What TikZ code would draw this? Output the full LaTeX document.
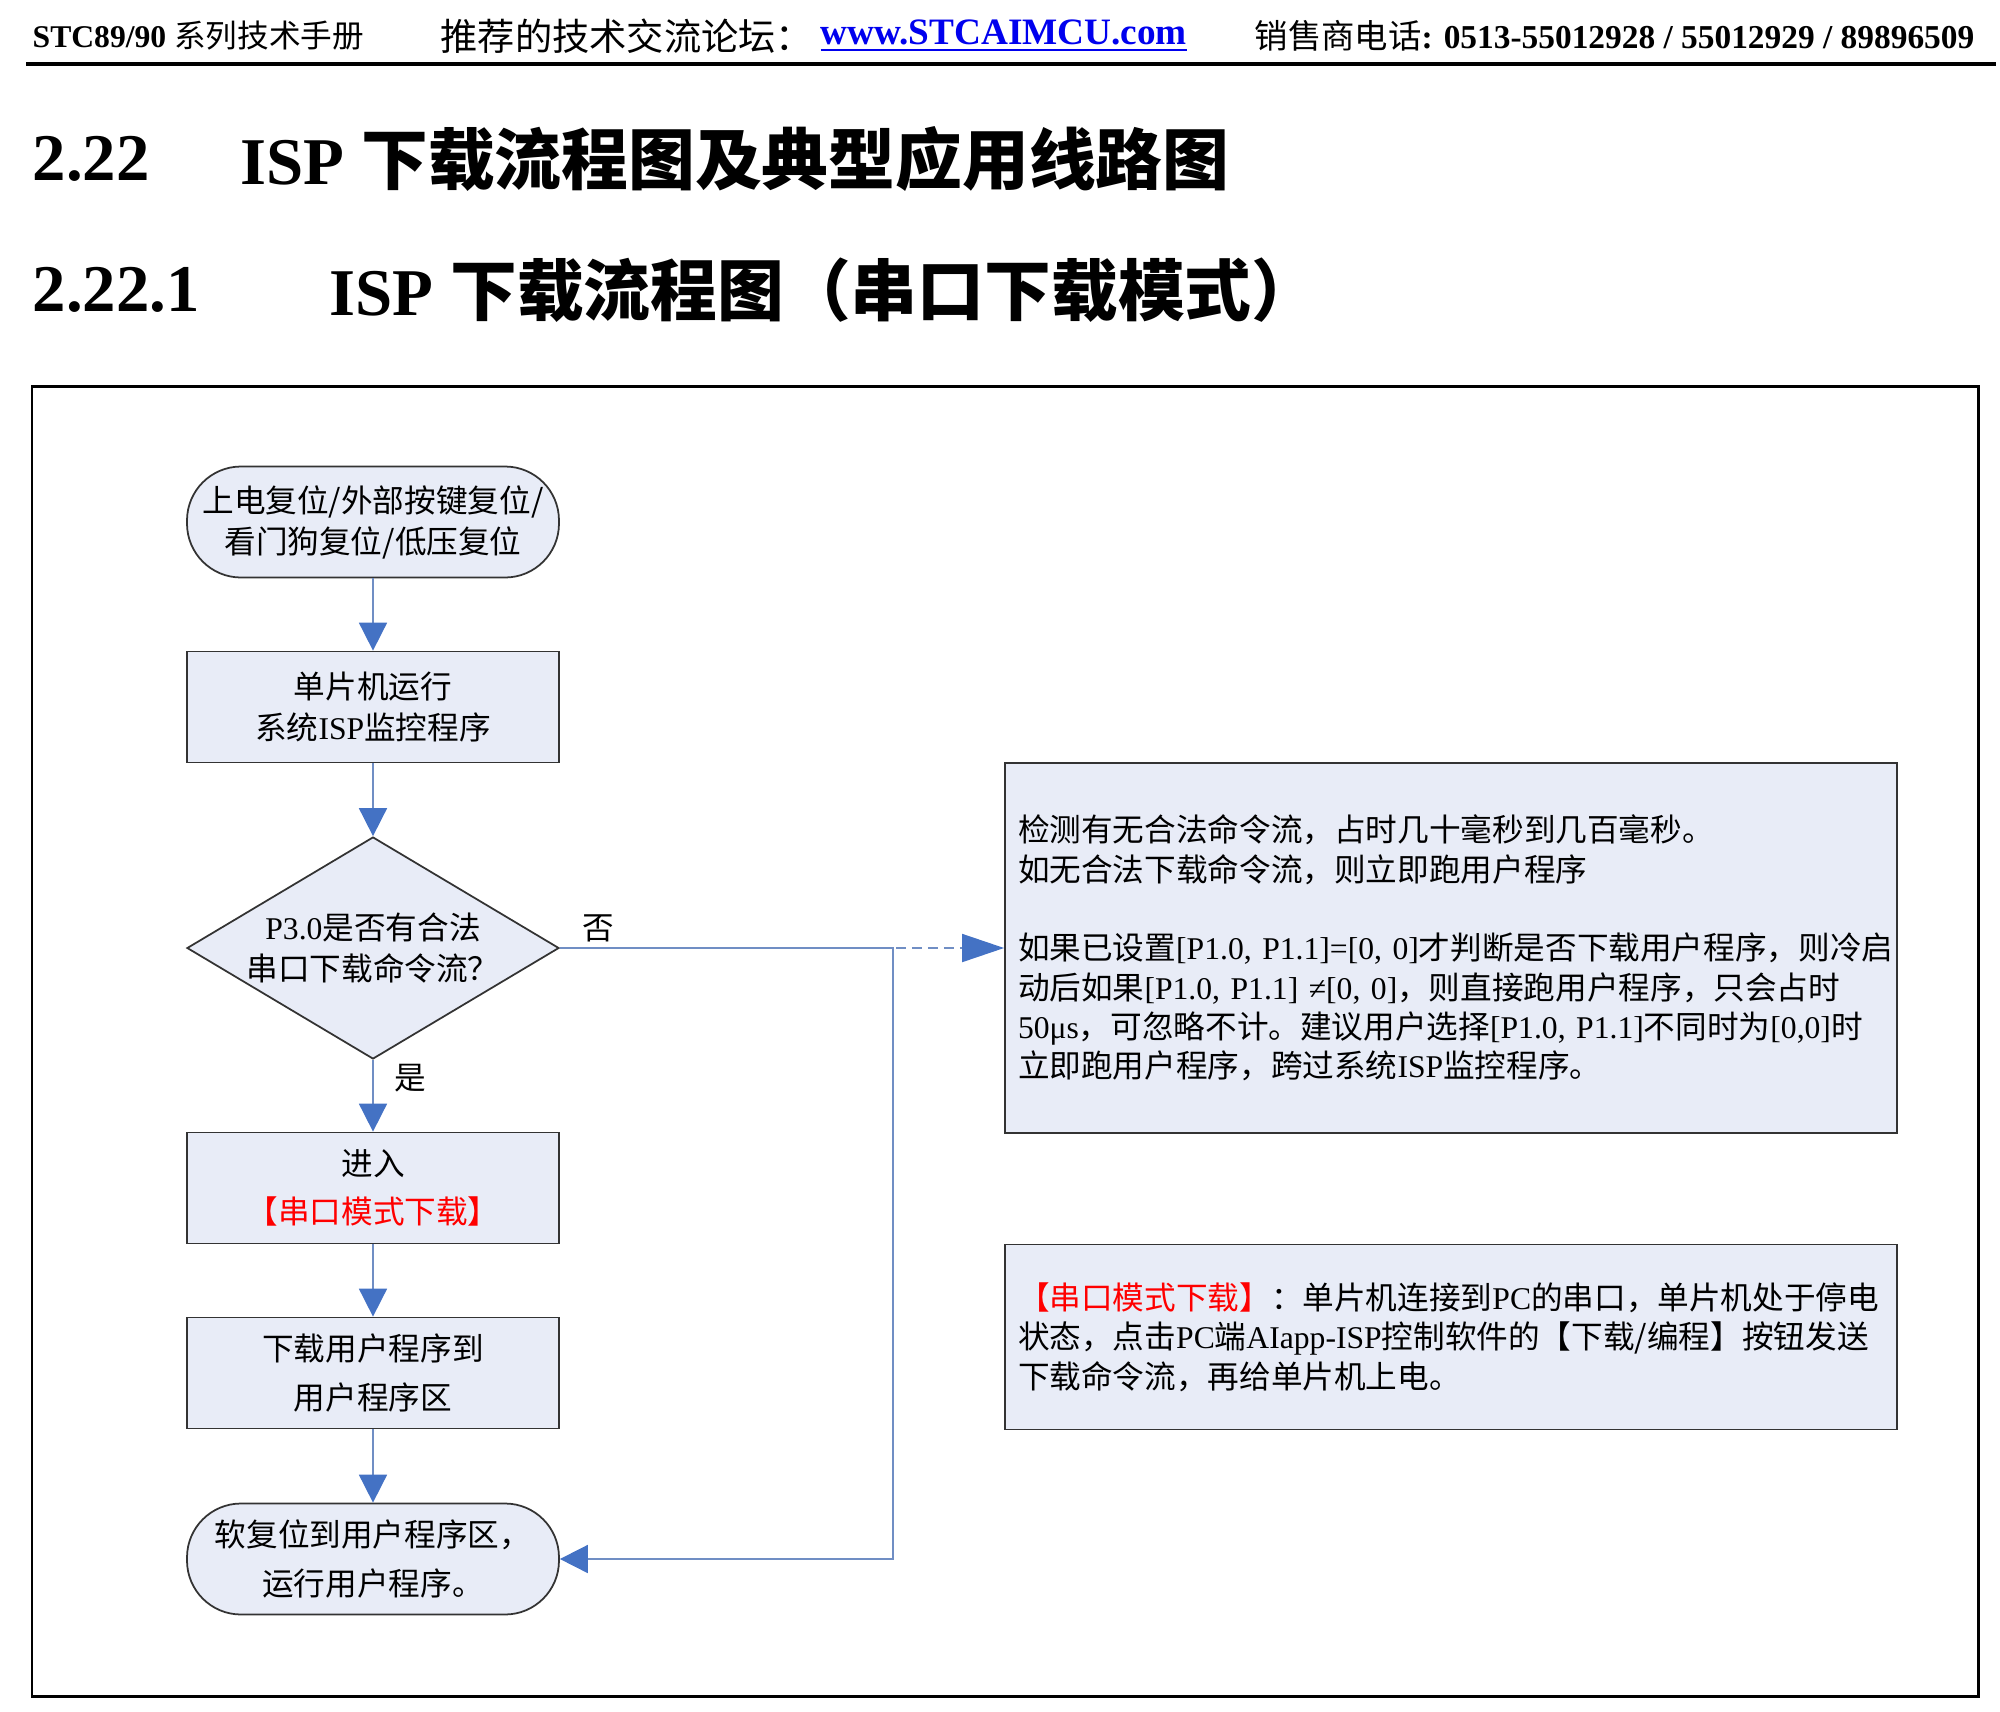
\documentclass[tikz,border=0pt]{standalone}
\usepackage{fontspec}
\setmainfont{Liberation Serif}
\newfontfamily\cjk{Noto Sans CJK SC}
\newcommand{\zh}[1]{{\cjk #1}}
\usetikzlibrary{arrows.meta,shapes.geometric}
\definecolor{boxfill}{RGB}{232,236,247}
\definecolor{flowline}{RGB}{112,142,196}
\definecolor{tipblue}{RGB}{68,114,196}
\definecolor{linkblue}{RGB}{0,0,238}

\begin{document}
\begin{tikzpicture}[x=0.1mm, y=-0.1mm,
    box/.style={rectangle, draw=black!80, line width=0.5pt, fill=boxfill, minimum width=37.2mm, minimum height=11.1mm, align=center, inner sep=0pt, font=\fontsize{9}{11.7}\selectfont},
    wide/.style={font=\fontsize{9}{13.8}\selectfont},
    term/.style={box, rounded corners=5.4mm},
    decision/.style={box, diamond, aspect=1.676, minimum height=22.2mm},
    note/.style={rectangle, draw=black!80, line width=0.5pt, fill=boxfill, text width=86.6mm, inner xsep=1.3mm, inner ysep=0pt, align=left, font=\fontsize{9}{11.2}\selectfont},
    arrow/.style={-{Triangle[length=2.8mm, width=2.8mm, color=tipblue]}, draw=flowline, line width=0.5pt},
    darrow/.style={-{Triangle[length=4.2mm, width=2.8mm, color=tipblue]}, draw=flowline, line width=0.5pt, dash pattern=on 1mm off 0.6mm},
    lbl/.style={font=\fontsize{9}{11}\selectfont, inner sep=0.5mm},
    head/.style={anchor=west, inner sep=0pt}
]
    \useasboundingbox (0,0) rectangle (2000,1712);

    % page header
    \node[head, font=\fontsize{9}{10}\selectfont]   (hdleft) at (32,36)  {\bfseries STC89/90 \zh{\mdseries 系列技术手册}};
    \node[head, font=\fontsize{10.6}{12}\selectfont] (hdmid)  at (440,36) {\zh{推荐的技术交流论坛：}};
    \node[head, font=\fontsize{10.6}{12}\selectfont] (url)    at (820,36) {\textcolor{linkblue}{\bfseries\underline{www.STCAIMCU.com}}};
    \node[head, anchor=east, font=\fontsize{9.5}{11}\selectfont] (hdright) at (1975,36) {\zh{销售商电话}\bfseries: 0513-55012928 / 55012929 / 89896509};
    \draw[line width=1.3pt] (26,64) -- (1996,64);

    % section titles
    \node[head, font=\fontsize{19}{20}\selectfont\bfseries] (h1num)   at (32,159)  {2.22};
    \node[head, font=\fontsize{19}{20}\selectfont\bfseries] (h1title) at (240,159) {ISP \zh{下载流程图及典型应用线路图}};
    \node[head, font=\fontsize{19}{20}\selectfont\bfseries] (h2num)   at (32,290)  {2.22.1};
    \node[head, font=\fontsize{19}{20}\selectfont\bfseries] (h2title) at (329,290) {ISP \zh{下载流程图（串口下载模式）}};

    \draw[line width=0.85pt] (32,386) rectangle (1978,1696);

    % flow
    \node[term]           (start) at (373,522)  {\zh{上电复位/外部按键复位/}\\\zh{看门狗复位/低压复位}};
    \node[box]            (isp)   at (373,707)  {\zh{单片机运行}\\\zh{系统}ISP\zh{监控程序}};
    \node[decision]       (dec)   at (373,948)  {P3.0\zh{是否有合法}\\\zh{串口下载命令流？}};
    \node[box, wide]      (enter) at (373,1188) {\zh{进入}\\\textcolor{red}{\zh{【串口模式下载】}}};
    \node[box, wide]      (load)  at (373,1373) {\zh{下载用户程序到}\\\zh{用户程序区}};
    \node[term, wide]     (run)   at (373,1559) {\zh{软复位到用户程序区，}\\\zh{运行用户程序。}};

    % notes
    \node[note, minimum height=37mm] (note1) at (1451,948) {\zh{检测有无合法命令流，占时几十毫秒到几百毫秒。}\\
        \zh{如无合法下载命令流，则立即跑用户程序}\\[11.2pt]
        \zh{如果已设置}[P1.0,~P1.1]=[0,~0]\zh{才判断是否下载用户程序，则冷启}\\
        \zh{动后如果}[P1.0,~P1.1]~≠[0,~0]\zh{，则直接跑用户程序，只会占时}\\
        50μs\zh{，可忽略不计。建议用户选择}[P1.0,~P1.1]\zh{不同时为}[0,0]\zh{时}\\
        \zh{立即跑用户程序，跨过系统}ISP\zh{监控程序。}};
    \node[note, minimum height=18.5mm] (note2) at (1451,1337) {\textcolor{red}{\zh{【串口模式下载】}}\zh{：单片机连接到}PC\zh{的串口，单片机处于停电}\\
        \zh{状态，点击}PC\zh{端}AIapp-ISP\zh{控制软件的【下载/编程】按钮发送}\\
        \zh{下载命令流，再给单片机上电。}};

    \coordinate (split) at (893,948);

    \draw[arrow] (start) -- (isp);
    \draw[arrow] (isp) -- (dec);
    \draw[arrow] (dec) -- node[lbl, pos=0.25, right=1.6mm]{\zh{是}} (enter);
    \draw[arrow] (enter) -- (load);
    \draw[arrow] (load) -- (run);
    \draw[darrow] (dec.east) -- node[lbl, pos=0.086, above]{\zh{否}} (note1.west);
    \draw[arrow] (dec.east) -- (split) |- (run.east);
\end{tikzpicture}
\end{document}
